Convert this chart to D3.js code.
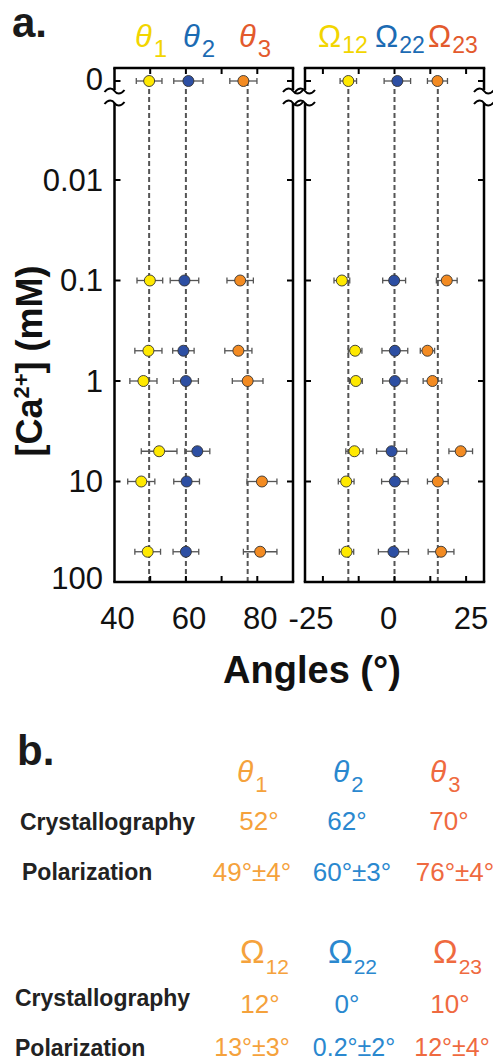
<!DOCTYPE html>
<html><head><meta charset="utf-8">
<script src="https://cdn.jsdelivr.net/npm/d3@7"></script>
<style>body{margin:0;background:#fff}svg{display:block;font-family:"Liberation Sans",Arial,sans-serif}</style>
</head><body><svg id="c" width="493" height="1063"></svg>
<script>
// ---------- data ----------
const conc = [0, 0.1, 0.5, 1, 5, 10, 50];
const theta1 = [49.7, 49.9, 49.5, 48.1, 52.5, 47.5, 49.3];
const theta1Err = [3.6, 3.6, 3.8, 3.8, 5.0, 3.8, 3.6];
const theta2 = [60.7, 59.6, 59.3, 60.0, 63.2, 60.2, 60.0];
const theta2Err = [4.1, 4.0, 3.0, 3.5, 3.5, 3.6, 3.6];
const theta3 = [76.1, 75.2, 74.7, 77.3, null, 81.3, 80.8];
const theta3Err = [3.8, 3.7, 3.8, 4.3, null, 4.2, 4.7];
const omega12 = [-12.9, -14.7, -11.0, -10.8, -11.2, -13.5, -13.4];
const omega12Err = [2.3, 2.2, 1.9, 1.8, 2.4, 2.2, 2.0];
const omega22 = [0.8, -0.1, 0.1, 0.1, -0.8, 0.1, -0.3];
const omega22Err = [3.7, 3.2, 3.6, 3.4, 4.2, 3.7, 4.2];
const omega23 = [12.0, 14.6, 9.2, 10.6, 18.5, 12.1, 13.0];
const omega23Err = [2.8, 2.9, 2.0, 2.6, 3.3, 2.9, 3.6];
const thetaMeans = [49.7, 60, 77.3];
const omegaMeans = [-12.9, 0, 12.1];
const yTickVals = [0.01, 0.1, 1, 10, 100];
const yTickLabels = ["0.01", "0.1", "1", "10", "100"];
const xTicksL = [50, 60, 70, 80];
const xLabelsL = [40, 60, 80];
const xTicksR = [-20, -10, 0, 10, 20];
const xLabelsR = [-25, 0, 25];
const thetaNames = ["1", "2", "3"];
const omegaNames = ["12", "22", "23"];
const tableRows = ["Crystallography", "Polarization"];
const crystTheta = ["52°", "62°", "70°"];
const polTheta = ["49°±4°", "60°±3°", "76°±4°"];
const crystOmega = ["12°", "0°", "10°"];
const polOmega = ["13°±3°", "0.2°±2°", "12°±4°"];

// ---------- layout ----------
const svg = d3.select("#c");
const pTop = 68, pBottom = 582, brkA = 90, brkB = 103;
const xL = d3.scaleLinear().domain([40, 90]).range([114.5, 293]);
const xR = d3.scaleLinear().domain([-25, 25]).range([305, 484]);
const yLog = d3.scaleLog().domain([0.01, 100]).range([180, 582]);
const yZero = d3.scaleOrdinal().domain([0]).range([81]);
const Y = c => c === 0 ? yZero(0) : yLog(c);

const ptColors = ["#FFE900", "#2D4FA3", "#F38B22"];
const hdrColors = ["#F2D500", "#1C6BB3", "#E35A2D"];
const tblColors = ["#F5A23C", "#2A88CF", "#EF6A40"];

svg.append("text").attr("x", 12).attr("y", 37).attr("font-size", 42).attr("font-weight", "bold").attr("fill", "#1a1a1a").text("a.");
svg.append("text").attr("x", 17).attr("y", 765).attr("font-size", 42).attr("font-weight", "bold").attr("fill", "#1a1a1a").text("b.");

function panel(x, ticks, series, means) {
  const [x0, x1] = x.range();
  const g = svg.append("g");
  g.selectAll(".mean").data(means).join("line")
    .attr("x1", d => x(d)).attr("x2", d => x(d))
    .attr("y1", Y(0)).attr("y2", pBottom)
    .attr("stroke", "#555").attr("stroke-width", 2).attr("stroke-dasharray", "5,3");
  const fr = g.append("g").attr("stroke", "#000").attr("stroke-width", 2.5).attr("fill", "none");
  fr.append("line").attr("x1", x0).attr("x2", x1).attr("y1", pTop).attr("y2", pTop).attr("stroke-linecap", "square");
  fr.append("line").attr("x1", x0).attr("x2", x1).attr("y1", pBottom).attr("y2", pBottom).attr("stroke-linecap", "square");
  [x0, x1].forEach(xx => {
    fr.append("line").attr("x1", xx).attr("x2", xx).attr("y1", pTop).attr("y2", brkA);
    fr.append("line").attr("x1", xx).attr("x2", xx).attr("y1", brkB).attr("y2", pBottom);
    [brkA + 1, brkB].forEach(yy => {
      fr.append("path").attr("stroke-width", 2)
        .attr("d", `M${xx-10},${yy+1} C${xx-6},${yy-4} ${xx-2},${yy-3} ${xx},${yy} C${xx+2},${yy+3} ${xx+6},${yy+4} ${xx+10},${yy-1}`);
    });
  });
  const ytk = [Y(0)].concat(yTickVals.slice(0, 4).map(v => yLog(v)));
  ytk.forEach(yy => {
    fr.append("line").attr("x1", x0).attr("x2", x0 + 6).attr("y1", yy).attr("y2", yy).attr("stroke-width", 2);
    fr.append("line").attr("x1", x1).attr("x2", x1 - 6).attr("y1", yy).attr("y2", yy).attr("stroke-width", 2);
  });
  ticks.forEach(t => {
    fr.append("line").attr("x1", x(t)).attr("x2", x(t)).attr("y1", pTop).attr("y2", pTop + 6).attr("stroke-width", 2);
    fr.append("line").attr("x1", x(t)).attr("x2", x(t)).attr("y1", pBottom).attr("y2", pBottom - 6).attr("stroke-width", 2);
  });
  series.forEach((s, i) => {
    const pts = conc.map((c, k) => ({c, v: s.v[k], e: s.e[k]})).filter(d => d.v !== null);
    const eg = g.append("g").attr("stroke", "#555").attr("stroke-width", 1.3);
    pts.forEach(d => {
      const yy = Y(d.c);
      eg.append("line").attr("x1", x(d.v - d.e)).attr("x2", x(d.v + d.e)).attr("y1", yy).attr("y2", yy);
      eg.append("line").attr("x1", x(d.v - d.e)).attr("x2", x(d.v - d.e)).attr("y1", yy - 3).attr("y2", yy + 3);
      eg.append("line").attr("x1", x(d.v + d.e)).attr("x2", x(d.v + d.e)).attr("y1", yy - 3).attr("y2", yy + 3);
    });
    g.selectAll(null).data(pts).join("circle")
      .attr("cx", d => x(d.v)).attr("cy", d => Y(d.c)).attr("r", 5.5)
      .attr("fill", ptColors[i]).attr("stroke", "#333").attr("stroke-width", 0.9);
  });
}

panel(xL, xTicksL, [
  {v: theta1, e: theta1Err}, {v: theta2, e: theta2Err}, {v: theta3, e: theta3Err}], thetaMeans);
panel(xR, xTicksR, [
  {v: omega12, e: omega12Err}, {v: omega22, e: omega22Err}, {v: omega23, e: omega23Err}], omegaMeans);

const ylab = svg.append("g").attr("font-size", 31).attr("text-anchor", "end").attr("fill", "#111");
ylab.append("text").attr("x", 103).attr("y", Y(0) - 2).attr("dominant-baseline", "central").text("0");
yTickVals.forEach((v, i) => ylab.append("text").attr("x", 103).attr("y", yLog(v) - (i === 4 ? 4 : 0))
  .attr("dominant-baseline", "central").text(yTickLabels[i]));

const xlab = svg.append("g").attr("font-size", 31).attr("text-anchor", "middle").attr("fill", "#111");
xLabelsL.forEach(v => xlab.append("text").attr("x", xL(v) + 3).attr("y", 629).text(v));
const rOff = {"-25": 6, "0": -6, "25": -13};
xLabelsR.forEach(v => xlab.append("text").attr("x", xR(v) + rOff[v]).attr("y", 629).text(v));

svg.append("text").attr("x", 312).attr("y", 683).attr("text-anchor", "middle")
  .attr("font-size", 38).attr("font-weight", "bold").attr("fill", "#111").text("Angles (°)");

const yTitle = svg.append("text").attr("transform", "translate(42,361) rotate(-90)")
  .attr("text-anchor", "middle").attr("font-size", 36).attr("font-weight", "bold").attr("fill", "#111");
yTitle.append("tspan").text("[Ca");
yTitle.append("tspan").attr("font-size", 22).attr("dy", -13).text("2+");
yTitle.append("tspan").attr("dy", 13).text("] (mM)");

const thX = [135, 183, 239];
thetaNames.forEach((n, i) => {
  const t = svg.append("text").attr("x", thX[i]).attr("y", 47).attr("fill", hdrColors[i]).attr("font-size", 31);
  t.append("tspan").attr("font-style", "italic").text("θ");
  t.append("tspan").attr("font-size", 24).attr("dx", 2).attr("dy", 10).text(n);
});
const omX = [318, 375, 428];
omegaNames.forEach((n, i) => {
  const t = svg.append("text").attr("x", omX[i]).attr("y", 47).attr("fill", hdrColors[i]).attr("font-size", 31);
  t.append("tspan").text("Ω");
  t.append("tspan").attr("font-size", 23).attr("dx", 1).attr("dy", 6).text(n);
});

const tb = svg.append("g");
const thTX = [237, 333, 430];
thetaNames.forEach((n, i) => {
  const t = tb.append("text").attr("x", thTX[i]).attr("y", 782).attr("fill", tblColors[i]).attr("font-size", 30);
  t.append("tspan").attr("font-style", "italic").text("θ");
  t.append("tspan").attr("font-size", 22).attr("dx", 2).attr("dy", 10).text(n);
});
const omTX = [240, 328, 433];
omegaNames.forEach((n, i) => {
  const t = tb.append("text").attr("x", omTX[i]).attr("y", 963).attr("fill", tblColors[i]).attr("font-size", 33);
  t.append("tspan").text("Ω");
  t.append("tspan").attr("font-size", 21).attr("dx", 1).attr("dy", 11).text(n);
});
const rowStyle = s => s.attr("font-size", 23).attr("font-weight", "bold").attr("fill", "#222");
rowStyle(tb.append("text").attr("x", 20).attr("y", 830).text(tableRows[0]));
rowStyle(tb.append("text").attr("x", 22).attr("y", 880).text(tableRows[1]));
rowStyle(tb.append("text").attr("x", 15).attr("y", 1006).text(tableRows[0]));
rowStyle(tb.append("text").attr("x", 15).attr("y", 1056).text(tableRows[1]));
const colC1 = [259, 347, 449];
const colC2 = [252, 352, 455];
const colC3 = [260, 347, 450];
const colC4 = [252, 354, 452];
const val = (arr, cx, y, fs) => arr.forEach((s, i) => tb.append("text").attr("x", cx[i]).attr("y", y)
  .attr("text-anchor", "middle").attr("font-size", fs || 26).attr("fill", tblColors[i]).text(s));
val(crystTheta, colC1, 830);
val(polTheta, colC2, 881);
val(crystOmega, colC3, 1013);
val(polOmega, colC4, 1056, 25);
</script></body></html>
